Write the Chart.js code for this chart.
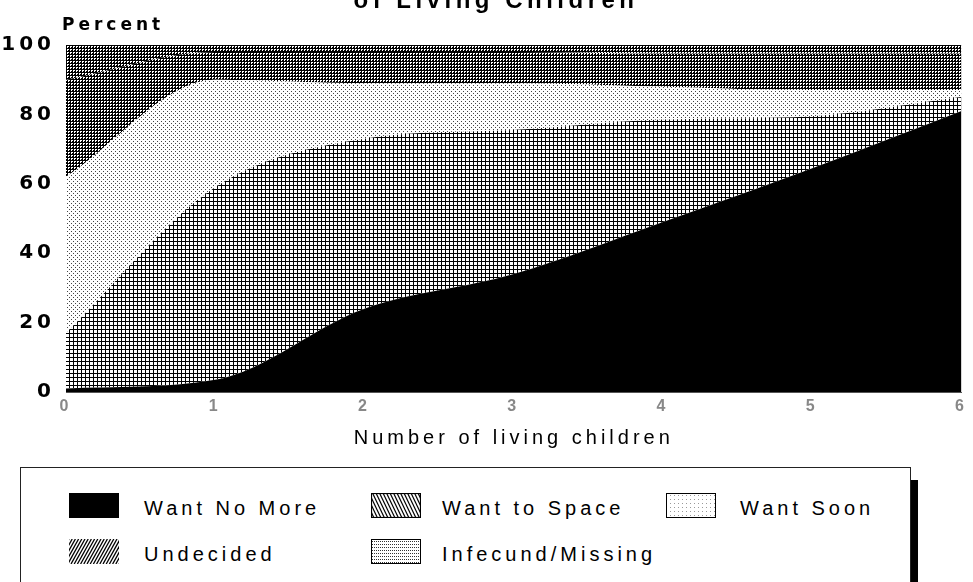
<!DOCTYPE html>
<html>
<head>
<meta charset="utf-8">
<script src="https://cdn.jsdelivr.net/npm/chart.js@4"></script>
<style>
  body { margin:0; background:#fff; width:973px; height:582px; overflow:hidden; position:relative; font-family:'Liberation Sans', Arial, sans-serif; }
  #wrap { position:absolute; left:0; top:0; width:973px; height:460px; }
  #legend { position:absolute; left:20px; top:467px; width:889px; height:130px; border:1px solid #222; box-shadow:7px 13px 0 #000; background:#fff; }
  .item { position:absolute; font-size:20px; letter-spacing:4px; color:#000; line-height:24px; }
  .item canvas { position:absolute; left:0; }
  .item span { position:absolute; white-space:nowrap; }
</style>
</head>
<body>
<div id="wrap"><canvas id="chart"></canvas></div>
<div id="legend"></div>
<script>
// data
const categories = ['0', '1', '2', '3', '4', '5', '6'];
const wantNoMore = [1, 3.5, 24, 34, 49, 64.5, 81];
const wantToSpace = [16, 55.5, 49, 41.5, 29.5, 15, 4];
const wantSoon = [45, 31, 16, 13.5, 9.5, 7.5, 2];
const undecided = [28, 8, 9, 9, 9.5, 10.5, 10.5];
const infecund = [10, 2, 2, 2, 2.5, 2.5, 2.5];
const yTicks = [0, 20, 40, 60, 80, 100];

const FONT = "'Liberation Sans', Arial, sans-serif";
const FONT2 = "'DejaVu Sans', sans-serif";
const canvas = document.getElementById('chart');
const ctx = canvas.getContext('2d');

// halftone-ish fills like the scanned original
function makePattern(size, draw){
  const c = document.createElement('canvas');
  c.width = c.height = size;
  const g = c.getContext('2d');
  g.fillStyle = '#fff'; g.fillRect(0, 0, size, size);
  g.fillStyle = '#000';
  draw(g);
  return ctx.createPattern(c, 'repeat');
}
const fills = [
  '#000',
  makePattern(4, g => { g.fillRect(1,0,1,4); g.fillRect(0,1,4,1); }),
  makePattern(4, g => { g.fillStyle = '#444'; g.fillRect(1,1,1,1); g.fillRect(3,3,1,1); }),
  makePattern(3, g => { g.fillRect(0,0,3,3); g.fillStyle = '#fff'; g.fillRect(2,2,1,1); g.fillRect(0,2,1,1); g.fillRect(2,0,1,1); }),
  makePattern(3, g => { g.fillRect(0,0,3,1); g.fillRect(0,0,1,3); g.fillRect(2,2,1,1); })
];

const names = ['Want No More', 'Want to Space', 'Want Soon', 'Undecided', 'Infecund/Missing'];
const series = [wantNoMore, wantToSpace, wantSoon, undecided, infecund];

const textPlugin = {
  id: 'texts',
  beforeLayout(chart){ chart.ctx.letterSpacing = '4px'; },
  beforeDraw(chart){ chart.ctx.letterSpacing = '4px'; },
  afterDraw(chart){
    const c = chart.ctx;
    c.save();
    c.fillStyle = '#000';
    c.letterSpacing = '4.5px';
    c.font = 'bold 24px ' + FONT;
    c.textAlign = 'center';
    c.textBaseline = 'alphabetic';
    c.fillText('of Living Children', 496, 8);
    c.letterSpacing = '4px';
    c.font = 'bold 17px ' + FONT2;
    c.textAlign = 'left';
    c.fillText('Percent', 62, 30);
    c.restore();
  }
};

new Chart(canvas, {
  type: 'line',
  data: {
    labels: categories,
    datasets: series.map((d, i) => ({
      label: names[i],
      data: d,
      backgroundColor: fills[i],
      borderWidth: 0,
      pointRadius: 0,
      fill: i === 0 ? 'origin' : '-1',
      cubicInterpolationMode: 'monotone'
    }))
  },
  options: {
    responsive: true,
    maintainAspectRatio: false,
    animation: false,
    layout: { padding: { top: 45, right: 11, left: 0, bottom: 0 } },
    plugins: { legend: { display: false }, tooltip: { enabled: false } },
    scales: {
      x: {
        offset: false,
        grid: { display: false, drawTicks: false },
        border: { display: true, color: '#555', dash: [2, 2] },
        ticks: { color: '#888', font: { family: FONT, size: 16, weight: 'bold' }, padding: 5, maxRotation: 0 },
        title: { display: true, text: 'Number of living children', color: '#000', font: { family: FONT, size: 20 }, padding: { top: 6, bottom: 10 } },
        afterFit(s){ s.height = 68; }
      },
      y: {
        stacked: true,
        min: 0, max: 100,
        afterBuildTicks(s){ s.ticks = yTicks.map(v => ({ value: v })); },
        grid: { display: false, drawTicks: false },
        border: { display: false },
        ticks: { color: '#000', font: { family: FONT2, size: 20, weight: 'bold' }, padding: 11 },
        afterFit(s){ s.width = 66; }
      }
    }
  },
  plugins: [textPlugin]
});

// legend box
const legend = document.getElementById('legend');
function swatch(kind){
  const c = document.createElement('canvas');
  c.width = 50; c.height = 25;
  const g = c.getContext('2d');
  g.fillStyle = '#fff'; g.fillRect(0, 0, 50, 25);
  g.strokeStyle = '#000'; g.fillStyle = '#000';
  if (kind === 0) { g.fillRect(0, 0, 50, 25); }
  if (kind === 1) {
    g.lineWidth = 1.2;
    for (let x = -30; x < 60; x += 3.5) { g.beginPath(); g.moveTo(x, 0); g.lineTo(x + 12, 25); g.stroke(); }
    g.strokeRect(0.5, 0.5, 49, 24);
  }
  if (kind === 2) {
    g.fillStyle = '#999';
    for (let y = 2; y < 24; y += 4) for (let x = 2 + (y % 8 ? 2 : 0); x < 49; x += 4) g.fillRect(x, y, 1, 1);
    g.strokeRect(0.5, 0.5, 49, 24);
  }
  if (kind === 3) {
    g.lineWidth = 1.3;
    for (let x = -30; x < 70; x += 3.2) { g.beginPath(); g.moveTo(x, 25); g.lineTo(x + 14, 0); g.stroke(); }
  }
  if (kind === 4) {
    g.fillStyle = '#333';
    for (let y = 2; y < 24; y += 3) for (let x = 1; x < 49; x += 2) g.fillRect(x, y, 1, 1);
    g.strokeRect(0.5, 0.5, 49, 24);
  }
  return c;
}
const legendPos = [
  [48, 25, 123], [350, 25, 421], [645, 25, 719],
  [48, 71, 123], [350, 71, 421]
];
names.forEach((n, i) => {
  const [sx, sy, tx] = legendPos[i];
  const it = document.createElement('div');
  it.className = 'item';
  it.style.left = '0px'; it.style.top = '0px';
  const sw = swatch(i);
  sw.style.left = sx + 'px'; sw.style.top = sy + 'px';
  const sp = document.createElement('span');
  sp.textContent = n;
  sp.style.left = tx + 'px'; sp.style.top = (sy + 3) + 'px';
  it.appendChild(sw); it.appendChild(sp);
  legend.appendChild(it);
});
</script>
</body>
</html>
